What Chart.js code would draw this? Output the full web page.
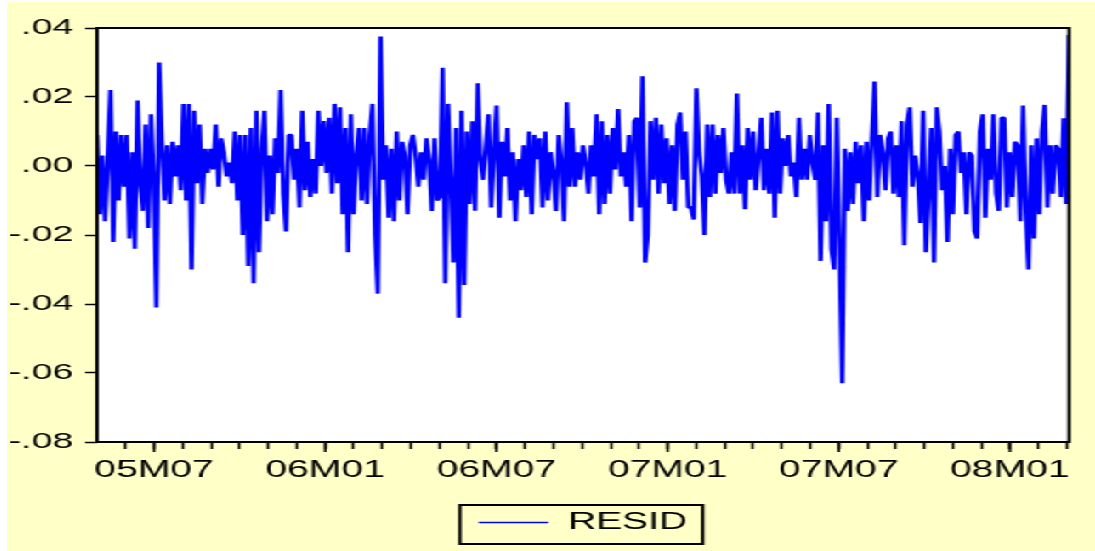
<!DOCTYPE html>
<html>
<head>
<meta charset="utf-8">
<script src="https://cdn.jsdelivr.net/npm/chart.js@4.4.0/dist/chart.umd.min.js"></script>
<style>
  html, body { margin: 0; padding: 0; background: #fff; }
  body { width: 1095px; height: 551px; overflow: hidden; position: relative; }
  /* the reference is horizontally stretched, so draw narrow and stretch it */
  #wrap { position: absolute; left: 7px; top: 2px; width: 640px; height: 549px;
          transform: scaleX(1.7); transform-origin: 0 0; background: #FFFFC8; }
</style>
</head>
<body>
<div id="wrap"><canvas id="residChart"></canvas></div>
<script>
// month ticks, 05M06 .. 08M03 (position k+1 months after 2005M05)
const monthLabels = [
  '05M06','05M07','05M08','05M09','05M10','05M11','05M12',
  '06M01','06M02','06M03','06M04','06M05','06M06','06M07','06M08','06M09','06M10','06M11','06M12',
  '07M01','07M02','07M03','07M04','07M05','07M06','07M07','07M08','07M09','07M10','07M11','07M12',
  '08M01','08M02','08M03'
];
const shownLabels = ['05M07','06M01','06M07','07M01','07M07','08M01'];
const yTicks = [0.04, 0.02, 0, -0.02, -0.04, -0.06, -0.08];
const sampleMonths = 34.07;   // length of the sample in months

// residuals
const resid = [
  .009, -.014, .003, -.016, .002, .022, -.022, .010, -.010, .009, -.006, .009,
  -.021, .004, -.024, .019, -.005, -.013, .012, -.018, .015, -.004, -.041, .030,
  .007, -.010, .006, -.011, .007, -.003, .006, -.007, .018, -.010, .018, -.030,
  .016, -.005, .012, -.011, .005, -.002, .005, -.001, .012, -.006, .008, .004,
  -.003, .001, -.005, .010, -.010, .009, -.020, .009, -.029, .011, -.034, .016,
  -.025, .005, .016, -.016, .003, -.014, .008, -.002, .022, -.008, -.019, .009,
  .009, -.004, .005, -.012, .016, -.007, .007, -.009, .002, -.008, .016, .000,
  .013, -.002, .014, -.008, .018, -.005, .017, -.014, .011, -.025, .015, -.014,
  .003, .011, -.010, .011, -.011, .009, .018, -.020, -.037, .0375, -.004, .006,
  -.015, .005, -.016, .010, -.010, .007, .003, -.014, .006, .009, .003, -.006,
  .004, -.004, .008, .002, -.013, .008, -.010, -.009, .0285, -.034, .018, -.004,
  -.028, .011, -.044, .016, -.0345, .010, -.011, .013, -.013, .024, .002, -.004,
  .006, .015, -.012, .005, .0175, -.015, .007, -.003, .011, -.010, .004, -.016,
  .002, -.007, .006, -.009, .010, -.014, .009, .002, .008, -.012, .010, -.010,
  .004, -.002, -.013, .009, .001, -.016, .0185, -.006, .011, -.006, .004, -.004,
  .006, .001, -.008, .006, -.003, .015, -.014, .013, -.011, .009, -.008, .011,
  -.001, .0165, -.003, .004, -.006, .009, -.016, .013, .014, -.012, .026, -.028,
  -.020, .013, -.004, .014, -.008, .012, -.005, .008, -.011, .006, -.013, .012,
  .0155, -.004, .010, -.012, -.012, -.0155, .0225, .004, -.003, -.020, .012, -.009,
  .012, -.008, .009, -.002, .011, -.004, -.008, .004, -.008, .021, -.008, .006,
  -.0125, .011, -.004, .010, -.007, .003, .014, -.007, .005, -.008, .0155, -.015,
  .016, -.008, .008, .000, .009, -.003, .001, -.009, .014, -.004, .005, -.004,
  .009, .001, -.004, .0155, -.0275, .006, -.016, .018, -.024, -.030, .014, -.022,
  -.063, .005, -.013, .004, -.011, .007, -.005, .006, -.016, .007, -.010, .008,
  .0245, -.009, .009, .004, -.007, .008, .010, -.008, .006, -.009, .013, -.023,
  .012, .017, -.006, .003, -.003, -.0165, .016, -.025, -.007, .011, -.028, .017,
  .010, -.007, .000, -.022, .005, -.014, .009, .010, -.002, .004, -.014, .004,
  .003, -.019, -.021, .010, .015, -.015, .005, -.004, .015, -.008, -.013, .014,
  .014, -.012, .004, -.009, .007, .006, -.016, .0175, -.013, -.030, .006, -.021,
  .008, -.014, .010, .0177, -.012, .006, -.008, .006, .005, -.009, .0138, -.011,
  .038
];

const font = 'Liberation Sans, Arial, sans-serif';
const step = sampleMonths / (resid.length - 1);
const points = resid.map((v, i) => ({ x: i * step, y: v }));

const plotFrame = {
  id: 'plotFrame',
  beforeDatasetsDraw(chart) {
    const { ctx, chartArea: a } = chart;
    ctx.save();
    ctx.fillStyle = '#ffffff';
    ctx.fillRect(a.left, a.top, a.right - a.left, a.bottom - a.top);
    ctx.restore();
  },
  afterDatasetsDraw(chart) {
    const { ctx, chartArea: a } = chart;
    ctx.save();
    ctx.strokeStyle = '#000';
    ctx.lineWidth = 2;
    ctx.strokeRect(a.left, a.top, a.right - a.left, a.bottom - a.top);
    // longer ticks at the labelled months
    const xs = chart.scales.x;
    ctx.lineWidth = 1.5;
    monthLabels.forEach((lab, k) => {
      if (!shownLabels.includes(lab)) return;
      const px = xs.getPixelForValue(k + 1);
      ctx.beginPath();
      ctx.moveTo(px, a.bottom);
      ctx.lineTo(px, a.bottom + 10);
      ctx.stroke();
    });
    ctx.restore();
  },
  afterDraw(chart) {
    const lg = chart.legend;
    if (!lg || !lg.legendHitBoxes.length) return;
    const hb = lg.legendHitBoxes[0];
    const ctx = chart.ctx;
    ctx.save();
    ctx.strokeStyle = '#000';
    ctx.lineWidth = 2;
    ctx.strokeRect(hb.left - 11, lg.top + 2, hb.width + 20, lg.height - 2);
    ctx.restore();
  }
};

new Chart(document.getElementById('residChart'), {
  type: 'line',
  data: {
    datasets: [{
      label: 'RESID',
      data: points,
      borderColor: '#0000FF',
      backgroundColor: '#0000FF',
      borderWidth: 2.6,
      borderJoinStyle: 'bevel',
      pointRadius: 0,
      tension: 0,
      fill: false
    }]
  },
  options: {
    responsive: true,
    maintainAspectRatio: false,
    animation: false,
    layout: { padding: { left: 0, right: 15.3, top: 26, bottom: 7 } },
    scales: {
      x: {
        type: 'linear',
        min: 0,
        max: sampleMonths,
        afterBuildTicks: (scale) => { scale.ticks = monthLabels.map((_, k) => ({ value: k + 1 })); },
        afterFit: (scale) => { scale.height = 61; },
        border: { display: false },
        grid: { drawOnChartArea: false, tickLength: 7, tickColor: '#000', tickWidth: 1.5 },
        ticks: {
          autoSkip: false,
          maxRotation: 0,
          padding: 8,
          color: '#000',
          font: { family: font, size: 23 },
          callback: (v) => {
            const lab = monthLabels[Math.round(v) - 1];
            return shownLabels.includes(lab) ? lab : '';
          }
        }
      },
      y: {
        min: -0.08,
        max: 0.04,
        afterBuildTicks: (scale) => { scale.ticks = yTicks.map(v => ({ value: v })); },
        afterFit: (scale) => { scale.width = 52.94; },
        border: { display: false },
        grid: { drawOnChartArea: false, tickLength: 7, tickColor: '#000', tickWidth: 1.5 },
        ticks: {
          padding: 7,
          color: '#000',
          font: { family: font, size: 22 },
          callback: (v) => v.toFixed(2).replace('0.', '.')
        }
      }
    },
    plugins: {
      tooltip: { enabled: false },
      legend: {
        position: 'bottom',
        fullSize: false,
        labels: {
          usePointStyle: true,
          pointStyle: 'line',
          pointStyleWidth: 41,
          padding: 8,
          color: '#000',
          font: { family: font, size: 23 },
          generateLabels(chart) {
            const items = Chart.defaults.plugins.legend.labels.generateLabels(chart);
            items.forEach(it => { it.lineWidth = 1.5; });
            return items;
          }
        }
      }
    }
  },
  plugins: [plotFrame]
});
</script>
</body>
</html>
